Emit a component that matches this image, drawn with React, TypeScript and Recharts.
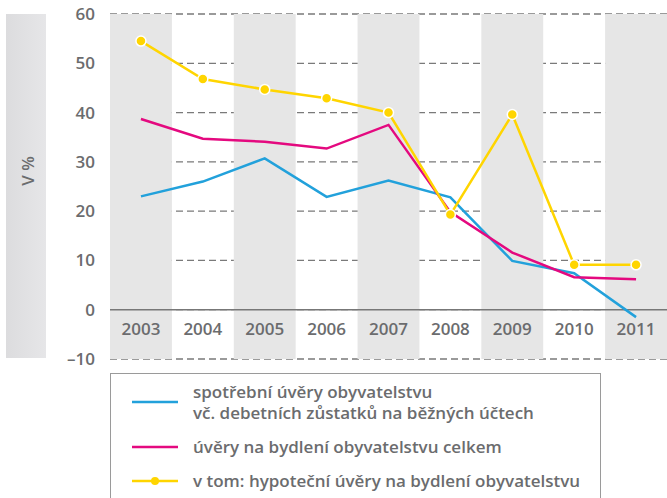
import { ComposedChart, Line, XAxis, YAxis, CartesianGrid, ReferenceArea, ReferenceLine } from "recharts"

const years = ["2003", "2004", "2005", "2006", "2007", "2008", "2009", "2010", "2011"]
const consumerLoans = [23.0, 26.0, 30.7, 22.9, 26.2, 22.8, 9.9, 7.4, -1.5]
const housingLoans = [38.7, 34.7, 34.1, 32.7, 37.5, 19.8, 11.6, 6.6, 6.2]
const mortgageLoans = [54.5, 46.8, 44.7, 42.9, 40.0, 19.3, 39.6, 9.1, 9.1]
const shadedYears = ["2003", "2005", "2007", "2009", "2011"]
const yTicks = [-10, 0, 10, 20, 30, 40, 50, 60]

const seriesNames = [
  "spotřební úvěry obyvatelstvu\nvč. debetních zůstatků na běžných účtech",
  "úvěry na bydlení obyvatelstvu celkem",
  "v tom: hypoteční úvěry na bydlení obyvatelstvu",
]
const seriesColors = ["#22a1db", "#e4097f", "#ffd500"]

const data = years.map((year, i) => ({
  year,
  consumer: consumerLoans[i],
  housing: housingLoans[i],
  mortgage: mortgageLoans[i],
}))

const font = "'Open Sans', 'Noto Sans', sans-serif"
const textGray = "#6b6c6e"

function YearTick(props: any) {
  const { x, y, payload } = props
  return (
    <text x={x} y={y - 31} textAnchor="middle" dominantBaseline="central"
      fill={textGray} fontSize={17} fontWeight={600} fontFamily={font}>
      {payload.value}
    </text>
  )
}

function LegendSample({ color, dot }: { color: string; dot: boolean }) {
  return (
    <svg width={46} height={10} style={{ flex: "none" }}>
      <line x1={0} y1={5} x2={46} y2={5} stroke={color} strokeWidth={2.5} />
      {dot && <circle cx={23} cy={5} r={4} fill={color} />}
    </svg>
  )
}

export default function App() {
  return (
    <div style={{ position: "absolute", left: 0, top: 0, width: 667, height: 498, background: "#fff", overflow: "hidden", fontFamily: font }}>
      <div style={{
        position: "absolute", left: 6, top: 14, width: 40, height: 344,
        background: "linear-gradient(to right, #dcdcde, #e6e6e8)",
      }}>
        <div style={{
          position: "absolute", left: 21, top: 157, transform: "translate(-50%, -50%) rotate(-90deg)",
          color: textGray, fontSize: 17, fontWeight: 600, whiteSpace: "nowrap",
        }}>V %</div>
      </div>

      <ComposedChart width={667} height={498} data={data}
        margin={{ top: 14, right: 0, left: 0, bottom: 109 }}
        style={{ position: "absolute", left: 0, top: 0 }}>
        {shadedYears.map((yr) => (
          <ReferenceArea key={yr} x1={yr} x2={yr} y1={-10} y2={60} fill="#e6e6e6" fillOpacity={1} stroke="none" ifOverflow="visible" />
        ))}
        <CartesianGrid vertical={false} stroke="#7a7a7a" strokeWidth={1.3} strokeDasharray="7 4" />
        <XAxis dataKey="year" scale="band" height={30} axisLine={false} tickLine={false}
          tickSize={0} tickMargin={0} tick={YearTick} interval={0} />
        <YAxis domain={[-10, 60]} ticks={yTicks} width={110} axisLine={false} tickLine={false}
          tickSize={0} tickMargin={15} interval={0}
          tickFormatter={(v: number) => (v < 0 ? "–" + Math.abs(v) : String(v))}
          tick={{ fill: textGray, fontSize: 17, fontWeight: 600, fontFamily: font }} />
        <ReferenceLine y={0} stroke="#777" strokeWidth={1.6} />
        <Line type="linear" dataKey="consumer" name={seriesNames[0]} stroke={seriesColors[0]} strokeWidth={2.5} dot={false} isAnimationActive={false} />
        <Line type="linear" dataKey="housing" name={seriesNames[1]} stroke={seriesColors[1]} strokeWidth={2.5} dot={false} isAnimationActive={false} />
        <Line type="linear" dataKey="mortgage" name={seriesNames[2]} stroke={seriesColors[2]} strokeWidth={2.5}
          dot={{ r: 5, fill: seriesColors[2], stroke: "#fff", strokeWidth: 1.5 }} isAnimationActive={false} />
      </ComposedChart>

      <div style={{
        position: "absolute", left: 110, top: 373, width: 491, height: 140,
        border: "1px solid #9a9a9a", boxSizing: "border-box",
      }}>
        {seriesNames.map((name, i) => (
          <div key={i} style={{ position: "absolute", left: 21, top: [7, 62, 96][i], display: "flex", alignItems: "center" }}>
            <LegendSample color={seriesColors[i]} dot={i === 2} />
            <div style={{
              marginLeft: 15, whiteSpace: "pre-line", color: textGray,
              fontSize: 17, fontWeight: 600, lineHeight: "21px",
            }}>{name}</div>
          </div>
        ))}
      </div>
    </div>
  )
}
